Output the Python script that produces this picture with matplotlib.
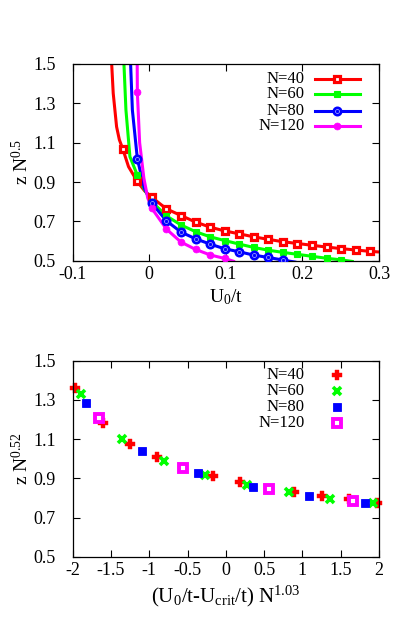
import matplotlib
matplotlib.use("Agg")
import matplotlib.pyplot as plt

plt.rcParams['font.family'] = ['Liberation Serif', 'DejaVu Serif']
plt.rcParams['mathtext.fontset'] = 'custom'
plt.rcParams['mathtext.rm'] = 'Liberation Serif'
plt.rcParams['mathtext.it'] = 'Liberation Serif:italic'
plt.rcParams['font.size'] = 13

RED = '#ff0000'
GREEN = '#00ff00'
BLUE = '#0000ff'
MAGENTA = '#ff00ff'

labels = ['N=40', 'N=60', 'N=80', 'N=120']

# ---- top panel: z N^0.5 vs U0/t (marker points) ----
u40 = [-0.0345, -0.0155, 0.0035, 0.0225, 0.0415, 0.0605, 0.0795, 0.0985, 0.1175,
       0.1365, 0.1555, 0.1745, 0.1935, 0.2125, 0.2315, 0.2505, 0.2695, 0.2885]
z40 = [1.068, 0.903, 0.822, 0.764, 0.730, 0.697, 0.671, 0.652, 0.637,
       0.622, 0.609, 0.597, 0.588, 0.579, 0.570, 0.562, 0.555, 0.548]
u60 = [-0.0155, 0.0035, 0.0225, 0.0415, 0.0605, 0.0795, 0.0985, 0.1175,
       0.1365, 0.1555, 0.1745, 0.1935, 0.2125, 0.2315, 0.2505]
z60 = [0.935, 0.800, 0.728, 0.682, 0.648, 0.622, 0.603, 0.585,
       0.568, 0.554, 0.543, 0.533, 0.523, 0.513, 0.505]
u80 = [-0.0155, 0.0035, 0.0225, 0.0415, 0.0605, 0.0795, 0.0985, 0.1175,
       0.1365, 0.1555, 0.1745]
z80 = [1.018, 0.792, 0.703, 0.646, 0.612, 0.585, 0.561, 0.546,
       0.529, 0.517, 0.504]
u120 = [-0.0155, 0.0035, 0.0225, 0.0415, 0.0605, 0.0795, 0.0985]
z120 = [1.356, 0.766, 0.661, 0.595, 0.558, 0.530, 0.512]

u40_extra = [-0.049, -0.047, -0.0426, -0.039, -0.027, -0.006, 0.300]
z40_extra = [1.50, 1.351, 1.181, 1.115, 0.978, 0.855, 0.545]
u60_extra = [-0.033, -0.0304, -0.0252, -0.006, 0.265]
z60_extra = [1.50, 1.266, 1.029, 0.860, 0.497]
u80_extra = [-0.0243, -0.022, -0.0065, 0.190]
z80_extra = [1.50, 1.266, 0.870, 0.494]
u120_extra = [-0.0157, -0.0125, -0.007, -0.002, 0.110]
z120_extra = [1.50, 1.100, 0.920, 0.820, 0.498]

# ---- bottom panel: scaling collapse ----
s40 = [-1.969, -1.608, -1.251, -0.895, -0.172, 0.185, 0.894, 1.255, 1.612, 1.977]
y40 = [1.359, 1.180, 1.073, 1.007, 0.913, 0.880, 0.829, 0.810, 0.793, 0.776]
s60 = [-1.895, -1.360, -0.807, -0.268, 0.272, 0.820, 1.360, 1.925]
y60 = [1.329, 1.101, 0.990, 0.917, 0.867, 0.832, 0.796, 0.772]
s80 = [-1.826, -1.095, -0.367, 0.359, 1.090, 1.821]
y80 = [1.286, 1.039, 0.929, 0.857, 0.812, 0.772]
s120 = [-1.652, -0.555, 0.559, 1.656]
y120 = [1.206, 0.951, 0.844, 0.783]

fig = plt.figure(figsize=(3.99, 6.27), dpi=100)
ax1 = fig.add_axes([0.182, 0.584, 0.768, 0.314])
ax2 = fig.add_axes([0.182, 0.112, 0.768, 0.313])


def style_axes(ax):
    ax.tick_params(direction='in', top=True, right=True, length=5, width=0.8,
                   labelsize=13)
    ax.tick_params(axis='x', pad=3.5)
    ax.tick_params(axis='y', pad=12)
    for sp in ax.spines.values():
        sp.set_linewidth(0.9)


def merged(u, z, ue, ze):
    pts = sorted(zip(list(u) + list(ue), list(z) + list(ze)))
    return [p[0] for p in pts], [p[1] for p in pts]


# top panel curves
top_styles = [
    (u40, z40, u40_extra, z40_extra, RED, dict(marker='s', ms=4.1, mfc='white', mec=RED, mew=2.3)),
    (u60, z60, u60_extra, z60_extra, GREEN, dict(marker='s', ms=5, mfc=GREEN, mec=GREEN, mew=0.8)),
    (u80, z80, u80_extra, z80_extra, BLUE, dict(marker='o', ms=5.2, mfc='white', mec=BLUE, mew=2.0)),
    (u120, z120, u120_extra, z120_extra, MAGENTA, dict(marker='o', ms=5, mfc=MAGENTA, mec=MAGENTA, mew=0.5)),
]
for u, z, ue, ze, c, mk in top_styles:
    lu, lz = merged(u, z, ue, ze)
    ax1.plot(lu, lz, color=c, lw=2.2, zorder=2)
    ax1.plot(u, z, ls='none', zorder=3, **mk)
ax1.plot(u80, z80, ls='none', marker='o', ms=1.5, color=BLUE, zorder=4)

ax1.set_xlim(-0.1, 0.3)
ax1.set_ylim(0.5, 1.5)
ax1.set_xticks([-0.1, 0, 0.1, 0.2, 0.3])
ax1.set_xticklabels(['-0.1', '0', '0.1', '0.2', '0.3'])
ax1.set_yticks([0.5, 0.7, 0.9, 1.1, 1.3, 1.5])
ax1.set_yticklabels(['0.5', '0.7', '0.9', '1.1', '1.3', '1.5'])
style_axes(ax1)
ax1.set_xlabel(r'$\mathrm{U_0/t}$', fontsize=14)
ax1.set_ylabel(r'$\mathrm{z\ N^{0.5}}$', fontsize=14, va='center')
ax1.xaxis.set_label_coords(0.5, -0.135)
ax1.yaxis.set_label_coords(-0.168, 0.5)

# manual legend (gnuplot style: text right-aligned, sample to the right)
rows = [0.922, 0.846, 0.763, 0.685]
for (u, z, ue, ze, c, mk), lab, ry in zip(top_styles, labels, rows):
    ax1.text(0.758, ry, lab, transform=ax1.transAxes, ha='right', va='center', fontsize=12)
    ax1.plot([0.791, 0.938], [ry, ry], color=c, lw=2.2, transform=ax1.transAxes, clip_on=False)
    ax1.plot([0.862], [ry], ls='none', transform=ax1.transAxes, clip_on=False, **mk)
ax1.plot([0.862], [rows[2]], ls='none', marker='o', ms=1.5, color=BLUE, transform=ax1.transAxes)

# bottom panel points
bot_styles = [
    (s40, y40, dict(marker='P', ms=6.5, mfc=RED, mec=RED, mew=0.3)),
    (s60, y60, dict(marker='x', ms=5.5, mec=GREEN, mew=2.6)),
    (s80, y80, dict(marker='s', ms=5.8, mfc=BLUE, mec=BLUE, mew=0.6)),
    (s120, y120, dict(marker='s', ms=5.2, mfc='white', mec=MAGENTA, mew=2.8)),
]
for s, y, mk in bot_styles:
    ax2.plot(s, y, ls='none', clip_on=False, **mk)

ax2.set_xlim(-2, 2)
ax2.set_ylim(0.5, 1.5)
ax2.set_xticks([-2, -1.5, -1, -0.5, 0, 0.5, 1, 1.5, 2])
ax2.set_xticklabels(['-2', '-1.5', '-1', '-0.5', '0', '0.5', '1', '1.5', '2'])
ax2.set_yticks([0.5, 0.7, 0.9, 1.1, 1.3, 1.5])
ax2.set_yticklabels(['0.5', '0.7', '0.9', '1.1', '1.3', '1.5'])
style_axes(ax2)
ax2.set_xlabel(r'$\mathrm{(U_0/t\text{-}U_{crit}/t)\ N^{1.03}}$', fontsize=15)
ax2.set_ylabel(r'$\mathrm{z\ N^{0.52}}$', fontsize=14, va='center')
ax2.xaxis.set_label_coords(0.5, -0.135)
ax2.yaxis.set_label_coords(-0.168, 0.5)

rows2 = [0.927, 0.845, 0.762, 0.681]
for (s, y, mk), lab, ry in zip(bot_styles, labels, rows2):
    ax2.text(0.758, ry, lab, transform=ax2.transAxes, ha='right', va='center', fontsize=12)
    ax2.plot([0.862], [ry], ls='none', transform=ax2.transAxes, clip_on=False, **mk)

fig.savefig('out.png', dpi=100)
